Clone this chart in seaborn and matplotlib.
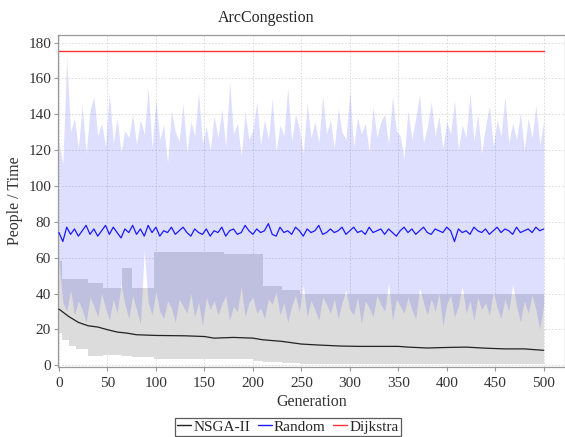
import numpy as np
import pandas as pd
import matplotlib
matplotlib.use('Agg')
import matplotlib.pyplot as plt
import seaborn as sns

# Random search: mean and min/max band, sampled every 4 generations
rnd_gen = np.arange(0, 501, 4)
rnd_mean = [74, 69, 77, 73, 76, 72, 75, 78, 73, 76,
            72, 75, 78, 73, 77, 74, 71, 76, 74, 78,
            73, 76, 72, 78, 74, 77, 72, 75, 74, 77,
            73, 75, 77, 74, 72, 76, 74, 73, 76, 72,
            75, 74, 77, 72, 75, 76, 73, 74, 78, 75,
            73, 76, 74, 75, 79, 73, 72, 77, 74, 75,
            73, 77, 75, 72, 76, 74, 75, 78, 73, 74,
            76, 74, 75, 77, 73, 75, 77, 74, 75, 73,
            77, 74, 75, 76, 73, 76, 74, 72, 75, 77,
            74, 76, 73, 75, 77, 74, 73, 76, 75, 74,
            77, 75, 69, 76, 74, 75, 73, 77, 75, 74,
            76, 73, 75, 77, 74, 76, 75, 73, 77, 74,
            75, 76, 74, 77, 75, 76]
rnd_upper = [125, 112, 172, 130, 138, 121, 145, 118, 142, 150,
             128, 135, 122, 152, 124, 138, 119, 131, 127, 140,
             123, 137, 129, 155, 121, 148, 126, 134, 113, 142,
             130, 125, 146, 119, 136, 128, 152, 124, 133, 120,
             139, 127, 143, 122, 158, 129, 135, 117, 141, 126,
             131, 147, 123, 137, 126, 149, 119, 134, 128, 155,
             125, 140, 132, 118, 146, 127, 136, 124, 150, 129,
             137, 121, 143, 130, 126, 153, 122, 138, 129, 135,
             119, 144, 127, 136, 140, 123, 150, 131, 128, 115,
             142, 126, 138, 151, 124, 133, 147, 128, 139, 121,
             136, 129, 148, 120, 134, 127, 152, 125, 140, 118,
             133, 145, 122, 137, 128, 150, 124, 135, 126, 141,
             120, 138, 127, 145, 123, 136]
rnd_lower = [58, 35, 30, 42, 28, 36, 31, 24, 38, 33,
             27, 40, 32, 25, 37, 29, 45, 34, 26, 39,
             31, 23, 64, 35, 28, 41, 30, 26, 36, 32,
             24, 37, 33, 29, 40, 27, 35, 22, 38, 31,
             36, 28, 34, 39, 25, 33, 30, 44, 27, 35,
             38, 29, 32, 26, 37, 34, 41, 28, 35, 24,
             33, 39, 30, 45, 27, 36, 31, 25, 38, 34,
             29, 37, 26, 35, 42, 31, 28, 38, 23, 36,
             32, 27, 39, 34, 30, 46, 25, 37, 33, 29,
             38, 31, 26, 43, 35, 28, 37, 30, 40, 22,
             34, 39, 27, 33, 44, 29, 36, 25, 38, 31,
             35, 28, 41, 32, 26, 37, 30, 45, 33, 24,
             36, 29, 39, 31, 20, 34]

# NSGA-II band (best-so-far bounds, drawn as steps)
nsga_band_gen = [0, 3, 10, 18, 30, 45, 65, 75, 98, 170, 200, 210, 230, 249, 300, 500]
nsga_upper = [58, 48, 48, 48, 46, 43, 54, 43, 63, 62, 62, 44, 42, 40, 40, 40]
nsga_lower = [18, 14, 10.5, 9, 5, 5.5, 5, 4.5, 3.2, 3.2, 2.5, 2, 1.2, 0.8, 0.5, 0.5]

# NSGA-II mean
nsga_gen = [0, 10, 20, 30, 40, 50, 60, 70, 80, 90, 100, 130, 150, 160, 180, 200,
            210, 230, 250, 270, 290, 310, 350, 360, 380, 400, 420, 440, 460, 480, 500]
nsga_mean = [31.3, 27.2, 23.9, 22, 21.3, 19.8, 18.5, 17.9, 17, 16.8, 16.6, 16.4, 16, 15.1,
             15.5, 15.1, 14.2, 13.3, 11.8, 11.2, 10.7, 10.5, 10.5, 10.1, 9.6, 9.9, 10.1,
             9.5, 9.1, 9.1, 8.3]

# Dijkstra baseline
dijk_gen = [0, 500]
dijk_val = [175, 175]

df_rnd = pd.DataFrame({'gen': rnd_gen, 'mean': rnd_mean, 'lo': rnd_lower, 'hi': rnd_upper})
df_nsga = pd.DataFrame({'gen': nsga_gen, 'mean': nsga_mean})
df_dijk = pd.DataFrame({'gen': dijk_gen, 'val': dijk_val})

sns.set_style('white')
plt.rcParams['font.family'] = ['Liberation Serif', 'DejaVu Serif']

fig = plt.figure(figsize=(5.65, 4.37), dpi=100)
ax = fig.add_axes([58 / 565, 70 / 437, 1 - 58 / 565, (367 - 35) / 437])

# bands
ax.fill_between(nsga_band_gen, nsga_lower, nsga_upper, step='post',
                color='#dcdcdc', linewidth=0, zorder=1)
ax.fill_between(df_rnd['gen'], df_rnd['lo'], df_rnd['hi'],
                color='#0000ff', alpha=0.13, linewidth=0, zorder=2)

# lines
sns.lineplot(data=df_dijk, x='gen', y='val', color='#ff3333', linewidth=1.0, ax=ax, zorder=4)
sns.lineplot(data=df_rnd, x='gen', y='mean', color='#1a1aff', linewidth=0.9, ax=ax, zorder=4)
sns.lineplot(data=df_nsga, x='gen', y='mean', color='#222222', linewidth=0.9, ax=ax, zorder=4)

ax.set_xlim(-1, 522)
ax.set_ylim(-1, 184.2)
ax.set_xticks(np.arange(0, 501, 50))
ax.set_yticks(np.arange(0, 181, 20))
ax.grid(True, color='#d8d8d8', linestyle=(0, (2, 2)), linewidth=0.6)
ax.set_axisbelow(True)
for s in ax.spines.values():
    s.set_color('#999999')
    s.set_linewidth(0.9)
ax.tick_params(axis='both', labelsize=11, length=3, color='#999999',
               direction='out', labelcolor='#333333', bottom=True, left=True)
ax.tick_params(axis='x', pad=4)
ax.tick_params(axis='y', pad=2)
ax.set_xlabel('Generation', fontsize=11.5, color='#333333', labelpad=3)
ax.set_ylabel('People / Time', fontsize=11.5, color='#333333', labelpad=4)

fig.text(266 / 565, 1 - 18 / 437, 'ArcCongestion', ha='center', va='center', fontsize=11.5)

handles = [plt.Line2D([], [], color='#222222', lw=1),
           plt.Line2D([], [], color='#1a1aff', lw=1),
           plt.Line2D([], [], color='#ff3333', lw=1)]
leg = fig.legend(handles, ['NSGA-II', 'Random', 'Dijkstra'], loc='upper center',
                 bbox_to_anchor=(288 / 565, 1 - 410 / 437), ncol=3, fontsize=11,
                 handlelength=0.9, handletextpad=0.15, columnspacing=0.5,
                 borderpad=0.15, fancybox=False, frameon=True)
leg.get_frame().set_edgecolor('#333333')
leg.get_frame().set_linewidth(0.9)

fig.savefig('out.png', dpi=100)
